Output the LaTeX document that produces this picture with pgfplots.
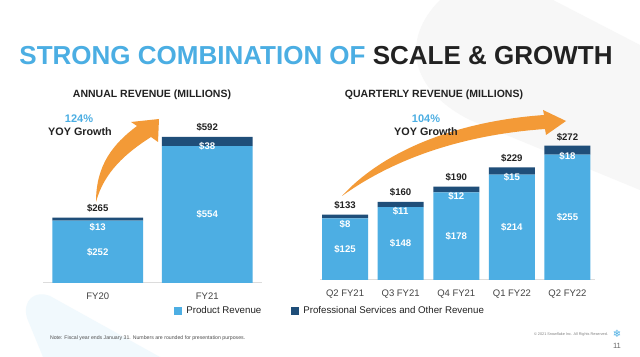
\documentclass[border=0pt]{standalone}
\usepackage{fontspec}
\setmainfont{Liberation Sans}
\newfontfamily\dejavu{DejaVu Sans}
\usepackage{pgfplots}
\usepackage{pgfplotstable}
\pgfplotsset{compat=1.18}
\definecolor{prodblue}{HTML}{4DAEE3}
\definecolor{profblue}{HTML}{1F4E79}
\definecolor{titleblue}{HTML}{4BAEE3}
\definecolor{arroworange}{HTML}{F39A37}
\definecolor{axisgray}{HTML}{DCDCDC}
\definecolor{txt}{HTML}{222222}

\pgfplotstableread{
x prod prof total
0 252 13 265
1 554 38 592
}\annual
\pgfplotstableread{
x prod prof total
0 125 8 133
1 148 11 160
2 178 12 190
3 214 15 229
4 255 18 272
}\quarterly

\pgfplotsset{
  mybars/.style={
    ybar stacked, scale only axis, anchor=south west,
    ymin=0, enlargelimits=false,
    axis x line=bottom, axis y line=none,
    x axis line style={axisgray,-,line width=0.5pt},
    xtick=data, major tick length=0pt, ytick=\empty,
    xticklabel style={font=\fontsize{4.75}{5}\selectfont, text=txt!85, yshift=-1.3pt},
    clip=false,
  },
}
\tikzset{
  inl/.style={font=\bfseries\fontsize{4.8}{5}\selectfont, text=white},
  tot/.style={font=\bfseries\fontsize{4.8}{5}\selectfont, text=txt, yshift=4.6pt},
  sub/.style={font=\bfseries\fontsize{4.8}{5}\selectfont, text=white, yshift=-5pt},
}

\begin{document}
\begin{tikzpicture}
\path[use as bounding box, fill=white] (0,0) rectangle (320pt,178.5pt);
\begin{scope}[x=0.5pt,y=-0.5pt,shift={(0pt,178.5pt)}]
  % faint background shapes
  \fill[black!3] (440,0) .. controls (400,40) and (410,90) .. (470,120) -- (640,190) -- (640,45) -- (553,0) -- cycle;
  \fill[titleblue!8] (43,357) -- (27,318) .. controls (22,300) and (35,290) .. (50,296) -- (160,357) -- cycle;
  % title
  \node[font=\bfseries\fontsize{13}{15}\selectfont] at (316,56) {\textcolor{titleblue}{STRONG COMBINATION OF} \textcolor{txt}{SCALE \& GROWTH}};
  \node[font=\bfseries\fontsize{5.25}{6}\selectfont, text=txt] at (152,95) {ANNUAL REVENUE (MILLIONS)};
  \node[font=\bfseries\fontsize{5.25}{6}\selectfont, text=txt] at (434,95) {QUARTERLY REVENUE (MILLIONS)};
  % arrows
  \fill[arroworange] (96,202) .. controls (96,165) and (113,144) .. (137,126) -- (131,122) -- (159,119) -- (158,142) -- (151,137) .. controls (126,153) and (104,172) .. (96,202) -- cycle;
  \fill[arroworange] (342,196) .. controls (385,149) and (460,121) .. (544,115) -- (543,110) -- (566,121) -- (546,135) -- (545,129) .. controls (460,135) and (392,160) .. (342,196) -- cycle;
  % growth notes
  \node[font=\bfseries\fontsize{5.5}{6}\selectfont, text=titleblue] at (79,119) {124\%};
  \node[font=\bfseries\fontsize{5.4}{6}\selectfont, text=txt] at (80,132) {YOY Growth};
  \node[font=\bfseries\fontsize{5.5}{6}\selectfont, text=titleblue] at (426,119) {104\%};
  \node[font=\bfseries\fontsize{5.4}{6}\selectfont, text=txt] at (426,132) {YOY Growth};
  % footer
  \node[anchor=west, font=\fontsize{2.6}{3}\selectfont, text=txt!80] at (43,338) {Note: Fiscal year ends January 31. Numbers are rounded for presentation purposes.};
  \node[anchor=west, font=\fontsize{1.9}{2}\selectfont, text=black!50] at (527,335) {\textcopyright{} 2021 Snowflake Inc. All Rights Reserved.};
  \node[font=\dejavu\fontsize{5}{5}\selectfont, text=titleblue] at (617,334) {❄};
  \node[font=\fontsize{3.8}{4}\selectfont, text=black!60] at (617,346) {11};
\end{scope}

% Annual
\begin{axis}[mybars, at={(21.5pt,37pt)}, width=109.5pt, height=74.1pt,
  xmin=-0.5, xmax=1.5, ymax=600, bar width=0.831,
  xticklabels={FY20,FY21},
  legend style={at={(axis description cs:0.598,-0.19)}, anchor=west, draw=none, fill=none,
    font=\fontsize{4.85}{5}\selectfont, text=txt, inner sep=0pt,
    /tikz/every even column/.append style={column sep=13pt}},
  legend columns=2, legend cell align=left,
  legend image code/.code={\fill[#1] (0pt,-2pt) rectangle (4pt,2pt);},
]
\addplot[fill=prodblue, draw=none] table[x=x,y=prod]{\annual};
\addplot[fill=profblue, draw=none] table[x=x,y=prof]{\annual};
\legend{Product Revenue, Professional Services and Other Revenue}
\coordinate (a0p) at (axis cs:0,126);
\coordinate (a1p) at (axis cs:1,277);
\coordinate (a0t) at (axis cs:0,265);
\coordinate (a1t) at (axis cs:1,592);
\end{axis}

% Quarterly
\begin{axis}[mybars, at={(160pt,38.5pt)}, width=137.5pt, height=73.8pt,
  xmin=-0.45, xmax=4.495, ymax=300, bar width=0.827,
  xticklabels={Q2 FY21,Q3 FY21,Q4 FY21,Q1 FY22,Q2 FY22},
]
\addplot[fill=prodblue, draw=none] table[x=x,y=prod]{\quarterly};
\addplot[fill=profblue, draw=none] table[x=x,y=prof]{\quarterly};
\coordinate (q0p) at (axis cs:0,62.5);
\coordinate (q1p) at (axis cs:1,74);
\coordinate (q2p) at (axis cs:2,89);
\coordinate (q3p) at (axis cs:3,107);
\coordinate (q4p) at (axis cs:4,127.5);
\coordinate (q0t) at (axis cs:0,133);
\coordinate (q1t) at (axis cs:1,160);
\coordinate (q2t) at (axis cs:2,190);
\coordinate (q3t) at (axis cs:3,229);
\coordinate (q4t) at (axis cs:4,272);
\end{axis}

% value labels
\node[inl] at (a0p) {\$252};
\node[inl] at (a1p) {\$554};
\node[sub] at (a0t) {\$13};
\node[sub] at (a1t) {\$38};
\node[tot] at (a0t) {\$265};
\node[tot] at (a1t) {\$592};
\node[inl] at (q0p) {\$125};
\node[inl] at (q1p) {\$148};
\node[inl] at (q2p) {\$178};
\node[inl] at (q3p) {\$214};
\node[inl] at (q4p) {\$255};
\node[sub] at (q0t) {\$8};
\node[sub] at (q1t) {\$11};
\node[sub] at (q2t) {\$12};
\node[sub] at (q3t) {\$15};
\node[sub] at (q4t) {\$18};
\node[tot] at (q0t) {\$133};
\node[tot] at (q1t) {\$160};
\node[tot] at (q2t) {\$190};
\node[tot] at (q3t) {\$229};
\node[tot] at (q4t) {\$272};
\end{tikzpicture}
\end{document}
